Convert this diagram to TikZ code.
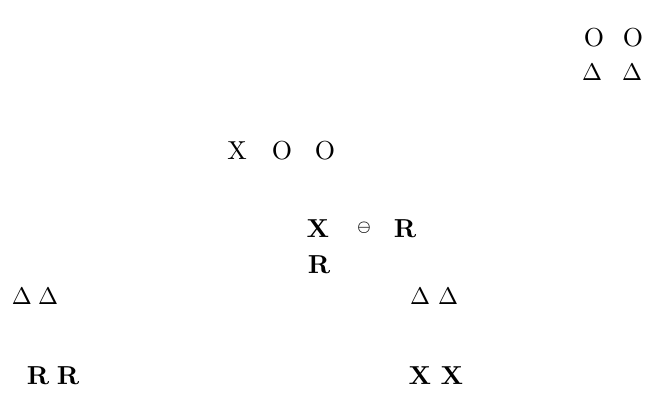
\documentclass[tikz,border=0pt]{standalone}
\usepackage{amssymb}
\usepackage{graphicx}
\newcommand{\bigglyph}[2]{\scalebox{#1}{#2}}
\begin{document}
\begin{tikzpicture}[x=1pt,y=-1pt,
  glyph/.style={inner sep=0pt, anchor=base, font=\fontsize{10}{12}\selectfont},
  bglyph/.style={inner sep=0pt, anchor=base, font=\fontsize{10}{12}\selectfont\bfseries},
  sglyph/.style={inner sep=0pt, anchor=center, font=\fontsize{10}{12}\selectfont\boldmath}]
\useasboundingbox (0,0) rectangle (668,404);
% top right
\node[glyph] (o1) at (594,46) {\bigglyph{2.6}{O}};
\node[glyph] (o2) at (633,46) {\bigglyph{2.6}{O}};
\node[glyph] (d1) at (592,80) {\bigglyph{2.4}{$\Delta$}};
\node[glyph] (d2) at (632,80) {\bigglyph{2.4}{$\Delta$}};
% X O O
\node[glyph] (x1) at (237,159) {\bigglyph{2.6}{X}};
\node[glyph] (o3) at (282,159) {\bigglyph{2.6}{O}};
\node[glyph] (o4) at (325,159) {\bigglyph{2.6}{O}};
% X o R
\node[bglyph] (x2) at (318,237) {\bigglyph{2.6}{X}};
\node[sglyph] (c1) at (364,228) {\bigglyph{1.5}{$\ominus$}};
\node[bglyph] (r1) at (405,237) {\bigglyph{2.6}{R}};
\node[bglyph] (r2) at (319,273) {\bigglyph{2.6}{R}};
% left deltas
\node[glyph] (d3) at (22,304) {\bigglyph{2.4}{$\Delta$}};
\node[glyph] (d4) at (48,304) {\bigglyph{2.4}{$\Delta$}};
% right deltas
\node[glyph] (d5) at (420,304) {\bigglyph{2.4}{$\Delta$}};
\node[glyph] (d6) at (448,304) {\bigglyph{2.4}{$\Delta$}};
% bottom
\node[bglyph] (r3) at (38,384) {\bigglyph{2.6}{R}};
\node[bglyph] (r4) at (68,384) {\bigglyph{2.6}{R}};
\node[bglyph] (x3) at (420,384) {\bigglyph{2.6}{X}};
\node[bglyph] (x4) at (452,384) {\bigglyph{2.6}{X}};
\end{tikzpicture}
\end{document}
